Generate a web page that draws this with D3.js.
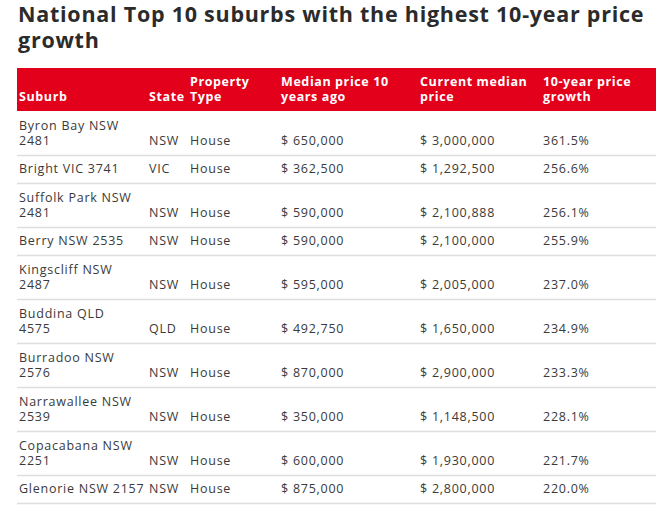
<!DOCTYPE html>
<html>
<head>
<meta charset="utf-8">
<script src="https://cdn.jsdelivr.net/npm/d3@7"></script>
<style>
  body { margin: 0; background: #fff; }
  svg text { font-family: "Open Sans", sans-serif; }
</style>
</head>
<body>
<div id="vis"></div>
<script>
// "\n" marks where the reference wraps the suburb cell
const suburbs = ["Byron Bay NSW\n2481", "Bright VIC 3741", "Suffolk Park NSW\n2481", "Berry NSW 2535",
  "Kingscliff NSW\n2487", "Buddina QLD\n4575", "Burradoo NSW\n2576", "Narrawallee NSW\n2539",
  "Copacabana NSW\n2251", "Glenorie NSW 2157"];
const states = ["NSW", "VIC", "NSW", "NSW", "NSW", "QLD", "NSW", "NSW", "NSW", "NSW"];
const types = ["House", "House", "House", "House", "House", "House", "House", "House", "House", "House"];
const price10yAgo = [650000, 362500, 590000, 590000, 595000, 492750, 870000, 350000, 600000, 875000];
const currentPrice = [3000000, 1292500, 2100888, 2100000, 2005000, 1650000, 2900000, 1148500, 1930000, 2800000];
const growth = [361.5, 256.6, 256.1, 255.9, 237.0, 234.9, 233.3, 228.1, 221.7, 220.0];

const columns = ["suburb", "state", "type", "old", "current", "growth"];
const headers = [["Suburb"], ["State"], ["Property", "Type"], ["Median price 10", "years ago"],
  ["Current median", "price"], ["10-year price", "growth"]];
const title = ["National Top 10 suburbs with the highest 10-year price", "growth"];

const WIDTH = 661, HEIGHT = 506;
const TABLE = {left: 17, right: 656, top: 68};
const LINE_H = 14.5;
const HEADER_H = 43;

const X = d3.scaleOrdinal()
  .domain(columns)
  .range([19, 149, 190, 281, 420, 543]);

const money = v => "$ " + d3.format(",")(v);
const pct = v => d3.format(".1f")(v) + "%";

const svg = d3.select("#vis").append("svg")
  .attr("width", WIDTH)
  .attr("height", HEIGHT);

// title
svg.append("text")
  .attr("x", 18)
  .attr("y", 22)
  .attr("font-size", 21.5)
  .attr("font-weight", 700)
  .attr("letter-spacing", 0.75)
  .attr("fill", "#2b2b2b")
  .selectAll("tspan")
  .data(title)
  .join("tspan")
    .attr("x", 18)
    .attr("dy", (d, i) => i ? 26 : 0)
    .text(d => d);

// header band
svg.append("rect")
  .attr("x", TABLE.left)
  .attr("y", TABLE.top)
  .attr("width", TABLE.right - TABLE.left)
  .attr("height", HEADER_H)
  .attr("fill", "#e3001b");

const headerBottom = TABLE.top + HEADER_H;
headers.forEach((lines, c) => {
  svg.append("text")
    .attr("font-size", 12.5)
    .attr("font-weight", 700)
    .attr("letter-spacing", 0.6)
    .attr("fill", "#fff")
    .selectAll("tspan")
    .data(lines)
    .join("tspan")
      .attr("x", X(columns[c]))
      .attr("y", (d, i) => headerBottom - 10.5 - (lines.length - 1 - i) * LINE_H)
      .text(d => d);
});

const rows = suburbs.map((s, i) => ({
  suburb: s.split("\n"),
  state: [states[i]],
  type: [types[i]],
  old: [money(price10yAgo[i])],
  current: [money(currentPrice[i])],
  growth: [pct(growth[i])]
}));

let y = headerBottom;
rows.forEach(r => {
  const h = 12 + r.suburb.length * 16;
  r.bottom = y + h;
  y += h;
});

const rowG = svg.selectAll(".row")
  .data(rows)
  .join("g")
  .attr("class", "row");

rowG.append("line")
  .attr("x1", TABLE.left)
  .attr("x2", TABLE.right)
  .attr("y1", d => d.bottom + 0.5)
  .attr("y2", d => d.bottom + 0.5)
  .attr("stroke", "#dedede")
  .attr("stroke-width", 1.5);

columns.forEach(col => {
  rowG.append("text")
    .attr("font-size", 12.5)
    .attr("letter-spacing", 0.75)
    .attr("fill", "#3a3a3a")
    .selectAll("tspan")
    .data(d => d[col].map((t, i) => ({t, i, n: d[col].length, bottom: d.bottom})))
    .join("tspan")
      .attr("x", X(col))
      .attr("y", d => d.bottom - 10.5 - (d.n - 1 - d.i) * LINE_H)
      .text(d => d.t);
});
</script>
</body>
</html>
